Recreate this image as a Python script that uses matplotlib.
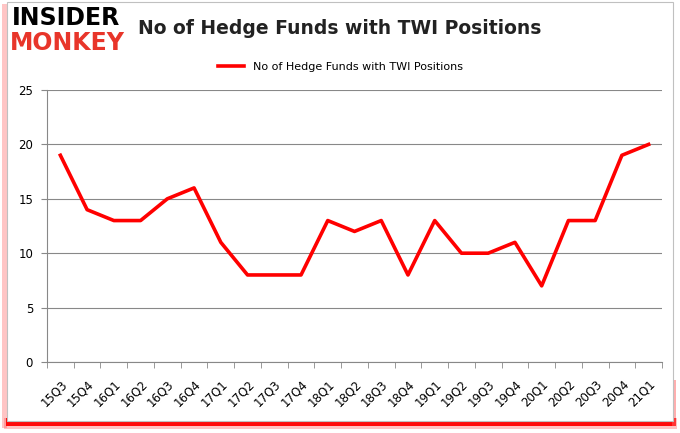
import matplotlib
matplotlib.use("Agg")
import matplotlib.pyplot as plt
from matplotlib.patches import Rectangle

quarters = ['15Q3', '15Q4', '16Q1', '16Q2', '16Q3', '16Q4', '17Q1', '17Q2', '17Q3', '17Q4',
            '18Q1', '18Q2', '18Q3', '18Q4', '19Q1', '19Q2', '19Q3', '19Q4', '20Q1', '20Q2',
            '20Q3', '20Q4', '21Q1']
funds = [19, 14, 13, 13, 15, 16, 11, 8, 8, 8, 13, 12, 13, 8, 13, 10, 10, 11, 7, 13, 13, 19, 20]
yticks = [0, 5, 10, 15, 20, 25]
series_name = 'No of Hedge Funds with TWI Positions'

W, H = 680, 433
fig = plt.figure(figsize=(6.8, 4.33), dpi=100)

def px_rect(x0, y0, x1, y1, **kw):
    # rectangle in pixel coords (y from top)
    fig.patches.append(Rectangle((x0 / W, 1 - y1 / H), (x1 - x0) / W, (y1 - y0) / H,
                                 transform=fig.transFigure, **kw))

# red shadow: strong along the bottom, faint pink on the left
px_rect(2, 4, 7, 428, facecolor='#ff8080', edgecolor='none', alpha=0.45, zorder=-4)
px_rect(4, 418, 677, 429, facecolor='#ff5050', edgecolor='none', alpha=0.35, zorder=-3)
px_rect(6, 418, 676, 426, facecolor='#ff0000', edgecolor='none', alpha=0.95, zorder=-2)
px_rect(672, 380, 676, 426, facecolor='#ff6060', edgecolor='none', alpha=0.5, zorder=-2)
px_rect(7, 2, 673, 421, facecolor='white', edgecolor='#c0c0c0', linewidth=0.8, zorder=-1)

ax = fig.add_axes([47 / W, 1 - 362 / H, 615 / W, 272 / H])
ax.set_zorder(2)
x = list(range(len(quarters)))
ax.plot(x, funds, color='#ff0000', linewidth=2.6, label=series_name, zorder=3)

ax.set_xlim(-0.5, len(quarters) - 0.5)
ax.set_ylim(0, 25)
ax.set_yticks(yticks)
ax.set_yticklabels([str(v) for v in yticks], fontsize=8.5)
ax.set_xticks(x)
ax.set_xticklabels(quarters, rotation=45, fontsize=8.5, ha='right', va='top', rotation_mode='anchor')
ax.set_xticks([i - 0.5 for i in range(len(quarters) + 1)], minor=True)
ax.tick_params(axis='x', which='major', length=0, pad=11)
ax.tick_params(axis='x', which='minor', length=4, color='#888888')
ax.tick_params(axis='y', length=4, color='#888888', pad=6)
ax.grid(axis='y', color='#888888', linewidth=0.8)
ax.set_axisbelow(True)
for side in ['top', 'right']:
    ax.spines[side].set_visible(False)
for side in ['left', 'bottom']:
    ax.spines[side].set_color('#888888')

ax.legend(loc='lower center', bbox_to_anchor=(0.477, 1.03), frameon=False, fontsize=8,
          handlelength=2.3)

fig.text(340 / W, 1 - 28 / H, 'No of Hedge Funds with TWI Positions', ha='center', va='center',
         fontsize=13.5, fontweight='bold', color='#222222')
fig.text(12 / W, 1 - 18 / H, 'INSIDER', ha='left', va='center', fontsize=17, fontweight='heavy',
         color='black')
fig.text(10 / W, 1 - 43 / H, 'MONKEY', ha='left', va='center', fontsize=17, fontweight='heavy',
         color='#e8352a')

fig.savefig('out.png', dpi=100)
